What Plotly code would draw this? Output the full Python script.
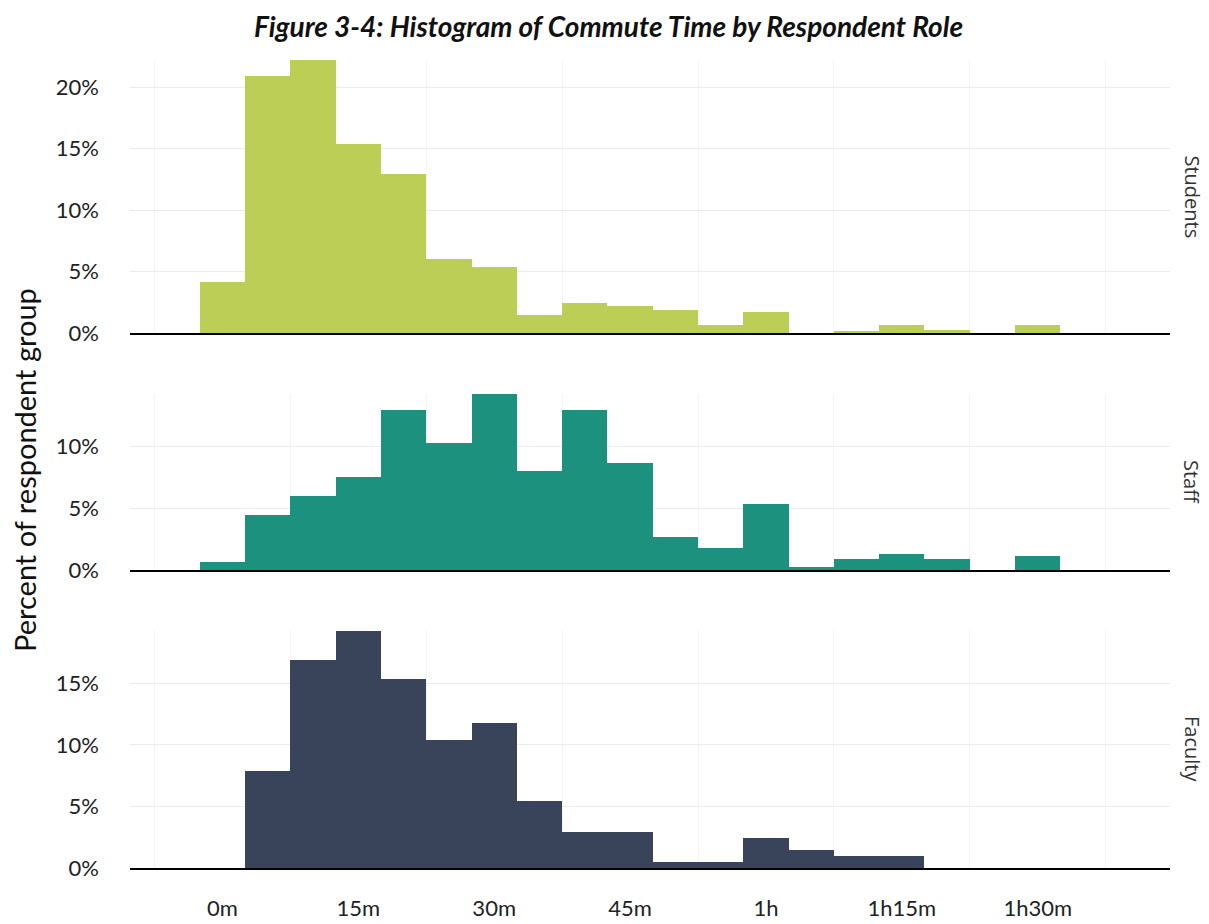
import plotly.graph_objects as go
from plotly.subplots import make_subplots

# bin centres in minutes (5-minute bins)
bins = [0, 5, 10, 15, 20, 25, 30, 35, 40, 45, 50, 55, 60, 65, 70, 75, 80, 85, 90]

students = [4.16, 20.86, 22.16, 15.4, 12.92, 6.03, 5.38, 1.49, 2.43, 2.22,
            1.89, 0.68, 1.73, 0, 0.19, 0.68, 0.27, 0, 0.68]
staff = [0.65, 4.45, 5.98, 7.52, 12.94, 10.3, 14.23, 8.03, 12.94, 8.65,
         2.67, 1.78, 5.34, 0.24, 0.89, 1.29, 0.89, 0, 1.13]
faculty = [0, 7.9, 16.9, 19.3, 15.35, 10.4, 11.8, 5.46, 2.97, 2.97,
           0.51, 0.51, 2.46, 1.49, 1.0, 1.0, 0, 0, 0]

groups = ["Students", "Staff", "Faculty"]
colors = ["#bdce56", "#1c917e", "#39445b"]
x_tickvals = [0, 15, 30, 45, 60, 75, 90]
x_ticktext = ["0m", "15m", "30m", "45m", "1h", "1h15m", "1h30m"]

tick_font = dict(family="Lato", size=22, color="#222222")

fig = make_subplots(rows=3, cols=1, shared_xaxes=True)

for i, (vals, col) in enumerate(zip([students, staff, faculty], colors)):
    fig.add_trace(go.Bar(x=bins, y=vals, width=5, marker_color=col,
                         marker_line_width=0, showlegend=False),
                  row=i + 1, col=1)

# panel heights proportional to their y ranges
domains = [[0.6621, 1.0], [0.3688, 0.5866], [0.0, 0.2946]]
yranges = [[0, 22.2], [0, 14.25], [0, 19.35]]
ytickvals = [[0, 5, 10, 15, 20], [0, 5, 10], [0, 5, 10, 15]]

for i in range(3):
    fig.update_yaxes(domain=domains[i], range=yranges[i], tickvals=ytickvals[i],
                     ticktext=[f"{v}%" for v in ytickvals[i]],
                     showgrid=True, gridcolor="#ebebeb", gridwidth=1,
                     zeroline=False, showline=False, ticks="", tickfont=tick_font,
                     ticklabelstandoff=30, automargin=False, row=i + 1, col=1)
    fig.update_xaxes(range=[-10.2, 104.6], tickvals=x_tickvals, ticktext=x_ticktext,
                     showgrid=False, zeroline=False, showline=True,
                     linecolor="black", linewidth=2 if i < 2 else 1.5,
                     minor=dict(tick0=7.5, dtick=15, showgrid=True,
                                gridcolor="#f4f4f4", gridwidth=1),
                     ticks="", tickfont=tick_font, showticklabels=(i == 2),
                     ticklabelstandoff=20, automargin=False, row=i + 1, col=1)

for i, g in enumerate(groups):
    fig.add_annotation(text=g, xref="paper", yref="paper", x=1.0,
                       y=sum(domains[i]) / 2, xanchor="center", yanchor="middle",
                       xshift=22, textangle=90, showarrow=False,
                       font=dict(family="Open Sans", size=20, color="#333333"))

fig.add_annotation(text="Percent of respondent group", xref="paper", yref="paper",
                   x=-0.101, y=0.4926, xanchor="center", yanchor="middle",
                   textangle=-90, showarrow=False,
                   font=dict(family="Lato", size=29, color="#111111"))

# page has an 8px body margin, so the figure is a little smaller than the window
fig.update_layout(
    width=1201, height=916,
    margin=dict(l=122, r=39, t=52, b=56),
    title=dict(text="<b><i>Figure 3-4: Histogram of Commute Time by Respondent Role</i></b>",
               x=0.5, xanchor="center", y=0.9793, yanchor="middle",
               font=dict(family="Lato", size=28, color="#111111")),
    plot_bgcolor="white", paper_bgcolor="white",
    bargap=0,
)

fig.write_html("out.html")
